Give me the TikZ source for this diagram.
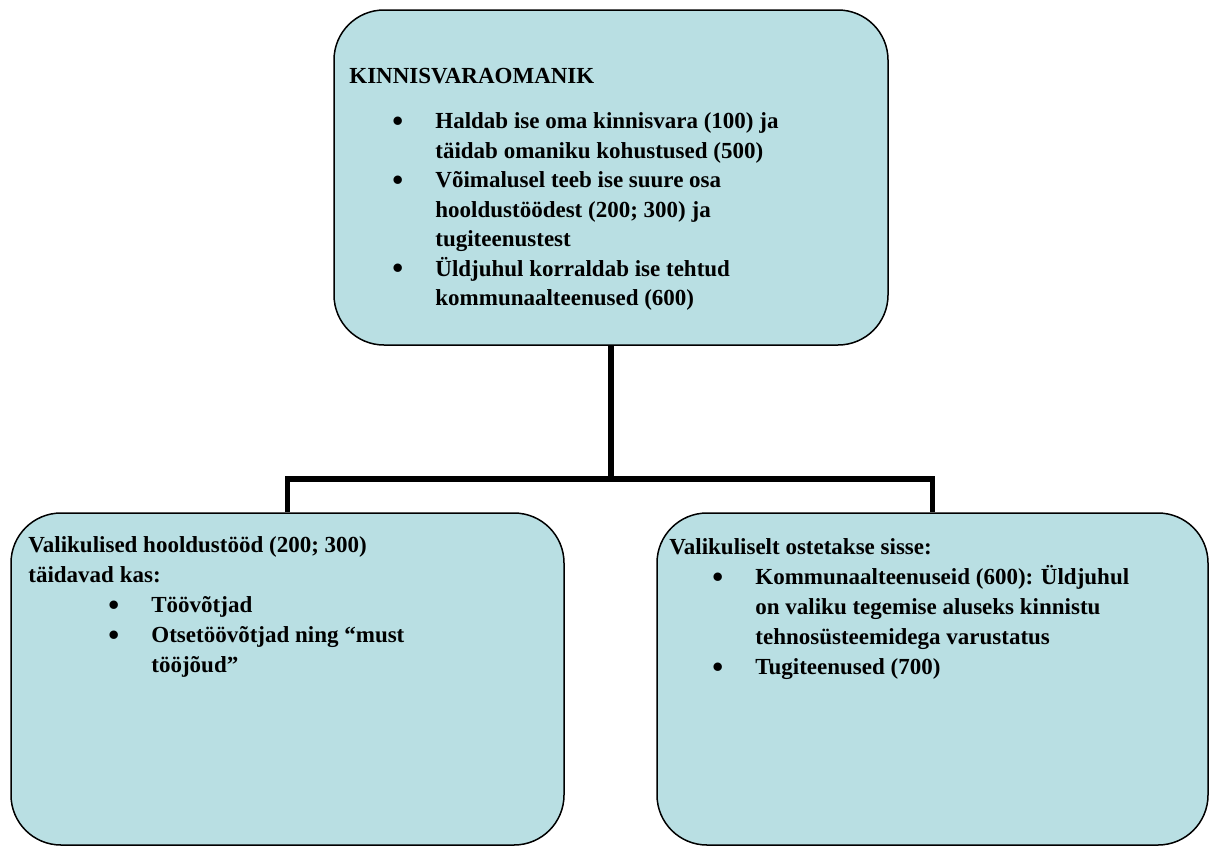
\documentclass[tikz,border=0pt]{standalone}
\usepackage{fontspec}
\setmainfont{Liberation Serif}
\usepackage{graphicx}
\usepackage{tikz}
\definecolor{boxblue}{RGB}{185,223,227}
\tikzset{
  box/.style={rectangle,draw,fill=boxblue,rounded corners=25pt,line width=0.75pt,inner sep=0pt},
  txt/.style={anchor=north west,inner sep=0pt,align=left,font=\bfseries\fontsize{11.5}{14.75}\selectfont},
  bar/.style={line width=2.6pt},
}
\newcommand{\bitem}[2]{\makebox[#1][l]{\hspace*{#2}\raisebox{-1.4pt}{\scalebox{1.35}{\textbullet}}}}
\begin{document}
\begin{tikzpicture}[x=0.5pt,y=-0.5pt]
\useasboundingbox (0,0) rectangle (1209,846);
\node[box,minimum width=277pt,minimum height=167.5pt] (own) at (611,177.5){};
\node[box,minimum width=276.5pt,minimum height=166pt] (left) at (287.5,679){};
\node[box,minimum width=275.5pt,minimum height=166pt] (right) at (932.5,679){};
\coordinate (bus) at (611,479);
\draw[bar] (own.south) -- (bus);
\draw[bar] (left.north) |- (bus) -| (right.north);
\node[txt] (ownT) at (349,68){KINNISVARAOMANIK\\[7.75pt]
\bitem{43pt}{21.5pt}Haldab ise oma kinnisvara (100) ja\\
\hspace*{43pt}täidab omaniku kohustused (500)\\
\bitem{43pt}{21.5pt}Võimalusel teeb ise suure osa\\
\hspace*{43pt}hooldustöödest (200; 300) ja\\
\hspace*{43pt}tugiteenustest\\
\bitem{43pt}{21.5pt}Üldjuhul korraldab ise tehtud\\
\hspace*{43pt}kommunaalteenused (600)};
\node[txt,font=\bfseries\fontsize{11.5}{15}\selectfont] (leftT) at (28,536.5){Valikulised hooldustööd (200; 300)\\
täidavad kas:\\
\bitem{61.5pt}{40pt}Töövõtjad\\
\bitem{61.5pt}{40pt}Otsetöövõtjad ning “must\\
\hspace*{61.5pt}tööjõud”};
\node[txt,font=\bfseries\fontsize{11.5}{15}\selectfont] (rightT) at (669,538){Valikuliselt ostetakse sisse:\\
\bitem{43pt}{21.5pt}Kommunaalteenuseid (600): Üldjuhul\\
\hspace*{43pt}on valiku tegemise aluseks kinnistu\\
\hspace*{43pt}tehnosüsteemidega varustatus\\
\bitem{43pt}{21.5pt}Tugiteenused (700)};
\end{tikzpicture}
\end{document}
